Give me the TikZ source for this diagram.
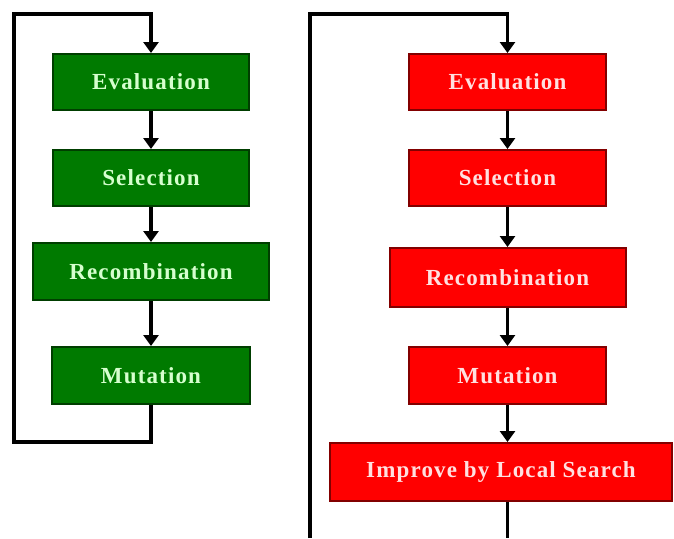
\documentclass[tikz,border=0pt]{standalone}
\usepackage{fontspec}
\setmainfont{Liberation Serif}[LetterSpace=5]
\usetikzlibrary{arrows.meta}
\usetikzlibrary{positioning}
\definecolor{gafill} {RGB}{0,122,0}
\definecolor{gadraw} {RGB}{0,62,0}
\definecolor{gatext} {RGB}{214,255,206}
\definecolor{mafill} {RGB}{255,0,0}
\definecolor{madraw} {RGB}{130,0,0}
\definecolor{matext} {RGB}{255,224,224}

\tikzset{
  gabox/.style={rectangle, fill=gafill, draw=gadraw, line width=2pt,
                text=gatext, inner sep=0pt,
                font=\fontsize{23}{27}\selectfont\bfseries,
                minimum width=196pt, minimum height=56pt},
  mabox/.style={rectangle, fill=mafill, draw=madraw, line width=2pt,
                text=matext, inner sep=0pt,
                font=\fontsize{23}{27}\selectfont\bfseries,
                minimum width=197pt, minimum height=56pt},
  backline/.style={line width=3.5pt},
  flowline/.style={line width=3.5pt, -{Triangle[width=15pt,length=11pt]}}
}

\begin{document}
\begin{tikzpicture}[x=1pt, y=1pt]
            \useasboundingbox (0,0) rectangle (674,-538);

            % genetic algorithm
            \node (gEval)
              [gabox]
              at(151,-82) {Evaluation};
            \node (gSel)
              [below=38pt of gEval, gabox]
              {Selection};
            \node (gRec)
              [below=35pt of gSel, gabox,
               minimum width=236pt, minimum height=57pt]
              {Recombination};
            \node (gMut)
              [below=45pt of gRec, gabox,
               minimum width=198pt, minimum height=57pt]
              {Mutation};

            % memetic algorithm
            \node (rEval)
              [mabox]
              at(507.5,-82) {Evaluation};
            \node (rSel)
              [below=38pt of rEval, mabox]
              {Selection};
            \node (rRec)
              [below=40pt of rSel, mabox,
               minimum width=236pt, minimum height=59pt]
              {Recombination};
            \node (rMut)
              [below=38pt of rRec, mabox,
               minimum height=57pt]
              {Mutation};
            \node (rImp)
              [below=37pt of rMut, xshift=-6.5pt, mabox,
               minimum width=342pt, minimum height=58pt]
              {Improve by Local Search};

            % loop corners
            \coordinate (gBot) at (14,-442);
            \coordinate (gTop) at (14,-14);
            \coordinate (rBot) at (310,-538);
            \coordinate (rTop) at (310,-14);
            \coordinate (rEnd) at (507.5,-538);

            % edges
            \path [flowline]
              (gEval) edge (gSel)
              (gSel) edge (gRec)
              (gRec) edge (gMut)
              (rEval) edge (rSel)
              (rSel) edge (rRec)
              (rRec) edge (rMut)
              ;
            \draw [flowline] (rMut.south) -- (rMut.south |- rImp.north);

            % loops
            \draw [flowline] (gMut.south) |- (gBot) -- (gTop) -| (gEval.north);
            \draw [backline] (rImp.south -| rEnd) -- (rEnd);
            \draw [flowline] (rBot) -- (rTop) -| (rEval.north);
        \end{tikzpicture}
\end{document}
